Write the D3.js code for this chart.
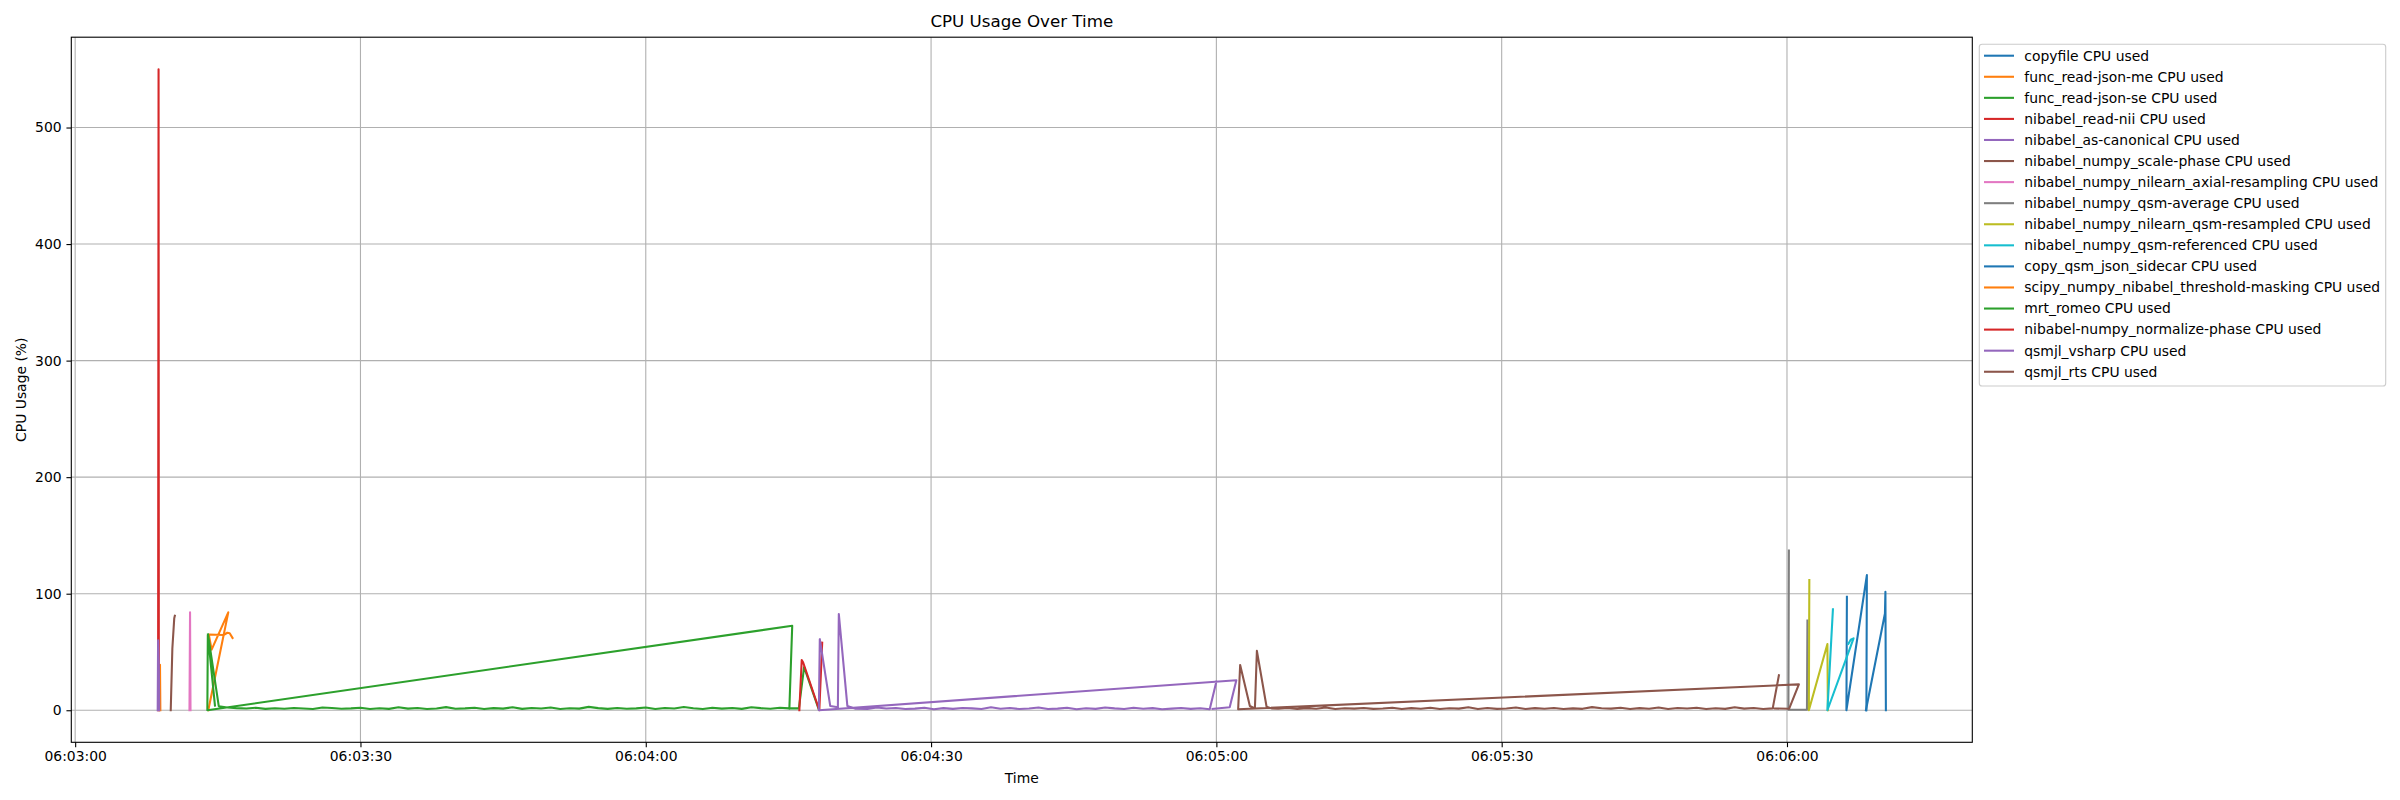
<!DOCTYPE html>
<html>
<head>
<meta charset="utf-8">
<script src="https://cdn.jsdelivr.net/npm/d3@7"></script>
<style>
  html, body { margin: 0; padding: 0; background: #fff; }
  svg { display: block; font-family: "DejaVu Sans", sans-serif; }
</style>
</head>
<body>
<svg id="chart" width="2400" height="800"></svg>
<script>
// ---------------- DATA ----------------
// Each series: [seconds after 06:03:00, CPU %], in the recorded (plot) order.
const seriesNames = [
  "copyfile CPU used",
  "func_read-json-me CPU used",
  "func_read-json-se CPU used",
  "nibabel_read-nii CPU used",
  "nibabel_as-canonical CPU used",
  "nibabel_numpy_scale-phase CPU used",
  "nibabel_numpy_nilearn_axial-resampling CPU used",
  "nibabel_numpy_qsm-average CPU used",
  "nibabel_numpy_nilearn_qsm-resampled CPU used",
  "nibabel_numpy_qsm-referenced CPU used",
  "copy_qsm_json_sidecar CPU used",
  "scipy_numpy_nibabel_threshold-masking CPU used",
  "mrt_romeo CPU used",
  "nibabel-numpy_normalize-phase CPU used",
  "qsmjl_vsharp CPU used",
  "qsmjl_rts CPU used"
];
const seriesColors = ["#1f77b4","#ff7f0e","#2ca02c","#d62728","#9467bd","#8c564b","#e377c2","#7f7f7f","#bcbd22","#17becf",
                      "#1f77b4","#ff7f0e","#2ca02c","#d62728","#9467bd","#8c564b"];

const copyfile = [[186.3,97.4],[186.25,0],[188.4,116],[188.35,0]];
const funcReadJsonMe = [[8.88,0],[8.92,39],[8.96,0]];
const funcReadJsonSe = [[75.15,1.6],[76.1,1.6],[76.65,37],[78.2,0.5]];
const nibabelReadNii = [[8.72,0],[8.77,550],[8.8,0]];
const nibabelAsCanonical = [[8.68,0],[8.72,60],[8.8,38],[8.84,0]];
const scalePhase = [[10.05,0],[10.22,53],[10.42,79],[10.48,81]];
const axialResampling = [[12.02,0],[12.08,84],[12.13,0]];
const qsmAverage = [[180.2,137],[180.15,0.5],[182.1,0.5],[182.15,77]];
const qsmResampled = [[182.35,111.8],[182.3,0],[184.25,56.8],[184.3,0]];
const qsmReferenced = [[184.83,86.6],[184.25,0],[187.0,61.7],[186.7,60.5],[186.45,57]];
const copyQsmJsonSidecar = [[188.3,0],[190.3,83],[190.35,101.7],[190.4,0]];
const thresholdMasking = [[14.0,0],[16.1,84],[14.35,52],[14.05,65],[15.6,64.5],[16.0,66.5],[16.25,66],[16.55,62]];
const mrtRomeo = [[14.7,4.0],[13.95,65],[13.9,0],[75.4,72.5],[75.1,1.6],
  [74.1,2.1],[73.1,1.3],[72.1,1.8],[71.1,2.6],[70.1,1.2],[69.1,1.9],[68.0,1.4],[67.0,2.2],[66.0,1.0],[65.0,1.7],
  [64.0,2.8],[63.0,1.5],[62.0,1.9],[61.0,1.1],[60.0,2.4],[59.0,1.6],[58.0,1.3],[57.0,2.0],[56.0,1.2],[55.0,1.8],
  [54.0,2.9],[53.0,1.4],[52.0,1.7],[51.0,1.1],[50.0,2.3],[49.0,1.5],[48.0,1.9],[47.0,1.2],[46.0,2.6],[45.0,1.4],
  [44.0,1.8],[43.0,1.0],[42.0,2.2],[41.0,1.6],[40.0,1.3],[39.0,2.7],[38.0,1.5],[37.0,1.1],[36.0,1.9],[35.0,1.4],
  [34.0,2.5],[33.0,1.2],[32.0,1.7],[31.0,1.0],[30.0,2.1],[29.0,1.6],[28.0,1.3],[27.0,1.9],[26.0,2.4],[25.0,1.1],
  [24.0,1.5],[23.0,2.0],[22.0,1.3],[21.0,1.7],[20.0,1.2],[19.0,2.2],[18.0,1.5],[17.0,1.8],[16.0,2.3],[15.1,3.5],[13.97,65]];
const normalizePhase = [[76.15,0],[76.4,43],[76.55,41],[78.25,0],[78.55,58]];
const qsmjlVsharp = [[120.0,24.6],[119.3,0.8],
  [118.3,1.7],[117.3,1.2],[116.3,2.0],[115.3,1.4],[114.3,0.9],[113.3,1.8],[112.3,1.3],[111.3,2.2],[110.3,1.0],[109.3,1.6],
  [108.3,2.4],[107.3,1.2],[106.3,1.7],[105.3,0.9],[104.3,2.1],[103.3,1.4],[102.3,1.1],[101.3,2.3],[100.3,1.5],[99.3,1.0],
  [98.3,1.9],[97.3,1.3],[96.3,2.5],[95.3,1.1],[94.3,1.6],[93.3,2.0],[92.3,1.2],[91.3,1.8],[90.3,0.9],[89.3,2.2],
  [88.3,1.4],[87.3,1.0],[86.3,1.9],[85.3,1.5],[84.3,2.4],[83.3,1.2],[82.0,1.4],
  [81.2,3.6],[80.3,82.6],[80.2,2.5],[79.4,3.6],[78.3,61],[78.2,0],[122.1,25.8],[121.4,2.5],[119.6,1.2]];
const qsmjlRts = [[179.15,30],[178.5,1.6],
  [177.5,1.1],[176.5,2.0],[175.5,1.4],[174.5,2.6],[173.5,1.2],[172.5,1.7],[171.5,1.0],[170.5,2.2],[169.5,1.5],[168.5,1.9],
  [167.5,1.1],[166.5,2.4],[165.5,1.3],[164.5,1.8],[163.5,1.0],[162.5,2.1],[161.5,1.4],[160.5,1.7],[159.5,2.7],[158.5,1.2],
  [157.5,1.6],[156.5,1.0],[155.5,2.0],[154.5,1.3],[153.5,1.8],[152.5,1.1],[151.5,2.3],[150.5,1.5],[149.5,1.2],[148.5,1.9],
  [147.5,1.0],[146.5,2.5],[145.5,1.4],[144.5,1.7],[143.5,1.1],[142.5,2.1],[141.5,1.3],[140.5,1.8],[139.5,1.0],[138.5,2.2],
  [137.5,1.5],[136.5,1.2],[135.5,2.0],[134.5,1.4],[133.5,1.7],[132.5,1.0],[131.5,2.3],[130.5,1.3],[129.5,1.8],[128.5,1.1],
  [127.5,1.9],[126.5,1.3],[125.8,1.6],
  [125.28,3],[124.26,51],[124.05,1.5],[123.52,3.6],[122.5,38.8],[122.29,0.8],[181.25,22.2],[180.23,1.3],[178.7,1.5]];

const seriesData = [copyfile, funcReadJsonMe, funcReadJsonSe, nibabelReadNii, nibabelAsCanonical, scalePhase,
  axialResampling, qsmAverage, qsmResampled, qsmReferenced, copyQsmJsonSidecar, thresholdMasking,
  mrtRomeo, normalizePhase, qsmjlVsharp, qsmjlRts];

const xTickLabels = ["06:03:00","06:03:30","06:04:00","06:04:30","06:05:00","06:05:30","06:06:00"];
const yTickValues = [0, 100, 200, 300, 400, 500];
const titleText = "CPU Usage Over Time";
const xLabelText = "Time";
const yLabelText = "CPU Usage (%)";

// ---------------- LAYOUT ----------------
const base = Date.UTC(2024, 0, 1, 6, 3, 0);
const toDate = s => new Date(base + s * 1000);
const parseTick = d3.utcParse("%Y-%m-%d %H:%M:%S");
const fmt = d3.utcFormat("%H:%M:%S");

const L = 71.3, R = 1972.3, T = 37.2, B = 742.3;
const FS = 13.9;

const svg = d3.select("#chart");

const allT = seriesData.flat().map(d => d[0]);
const allV = seriesData.flat().map(d => d[1]);
const tMin = d3.min(allT), tMax = d3.max(allT);
const vMin = d3.min(allV), vMax = d3.max(allV);
const tPad = (tMax - tMin) * 0.05, vPad = (vMax - vMin) * 0.05;

const x = d3.scaleUtc().domain([toDate(tMin - tPad), toDate(tMax + tPad)]).range([L, R]);
const y = d3.scaleLinear().domain([vMin - vPad, vMax + vPad]).range([B, T]);

const xTicks = xTickLabels.map(s => parseTick("2024-01-01 " + s));

// grid
const grid = svg.append("g");
grid.selectAll(".gx").data(xTicks).enter().append("line")
  .attr("x1", d => x(d)).attr("x2", d => x(d)).attr("y1", T).attr("y2", B)
  .attr("stroke", "#b0b0b0").attr("stroke-width", 1.1);
grid.selectAll(".gy").data(yTickValues).enter().append("line")
  .attr("x1", L).attr("x2", R).attr("y1", d => y(d)).attr("y2", d => y(d))
  .attr("stroke", "#b0b0b0").attr("stroke-width", 1.1);

// lines
const line = d3.line().x(d => x(toDate(d[0]))).y(d => y(d[1]));
svg.append("g").selectAll("path").data(seriesData).enter().append("path")
  .attr("d", line)
  .attr("fill", "none")
  .attr("stroke", (d, i) => seriesColors[i])
  .attr("stroke-width", 2.08)
  .attr("stroke-linejoin", "round")
  .attr("stroke-linecap", "square");

// axes
const xAxis = d3.axisBottom(x).tickValues(xTicks).tickFormat(fmt).tickSize(4.86).tickPadding(4.2);
const gx = svg.append("g").attr("transform", `translate(0,${B})`).call(xAxis);
const yAxis = d3.axisLeft(y).tickValues(yTickValues).tickFormat(d3.format("d")).tickSize(4.86).tickPadding(4.86);
const gy = svg.append("g").attr("transform", `translate(${L},0)`).call(yAxis);
[gx, gy].forEach(g => {
  g.select(".domain").remove();
  g.selectAll(".tick line").attr("stroke", "#000").attr("stroke-width", 1.1);
  g.selectAll(".tick text").attr("font-family", "DejaVu Sans").attr("font-size", FS).attr("fill", "#000");
});

// spines
svg.append("rect").attr("x", L).attr("y", T).attr("width", R - L).attr("height", B - T)
  .attr("fill", "none").attr("stroke", "#000").attr("stroke-width", 1.1);

// title & labels
svg.append("text").attr("x", (L + R) / 2).attr("y", 26.5).attr("text-anchor", "middle")
  .attr("font-size", 16.7).attr("fill", "#000").text(titleText);
svg.append("text").attr("x", (L + R) / 2).attr("y", 783).attr("text-anchor", "middle")
  .attr("font-size", FS).attr("fill", "#000").text(xLabelText);
svg.append("text").attr("transform", `translate(26.3,${(T + B) / 2}) rotate(-90)`).attr("text-anchor", "middle")
  .attr("font-size", FS).attr("fill", "#000").text(yLabelText);

// legend
const lg = svg.append("g");
lg.append("rect").attr("x", 1979.3).attr("y", 44.3).attr("width", 2385.7 - 1979.3).attr("height", 386 - 44.3)
  .attr("rx", 2.8).attr("fill", "#fff").attr("fill-opacity", 0.8).attr("stroke", "#cccccc").attr("stroke-width", 1.1);
const rows = lg.selectAll(".row").data(seriesNames).enter().append("g")
  .attr("transform", (d, i) => `translate(0,${55.7 + 21.07 * i})`);
rows.append("line").attr("x1", 1984).attr("x2", 2014).attr("y1", 0).attr("y2", 0)
  .attr("stroke", (d, i) => seriesColors[i]).attr("stroke-width", 2.08);
rows.append("text").attr("x", 2024.3).attr("y", 0).attr("dy", "0.35em")
  .attr("font-size", FS).attr("fill", "#000").text(d => d);
</script>
</body>
</html>
